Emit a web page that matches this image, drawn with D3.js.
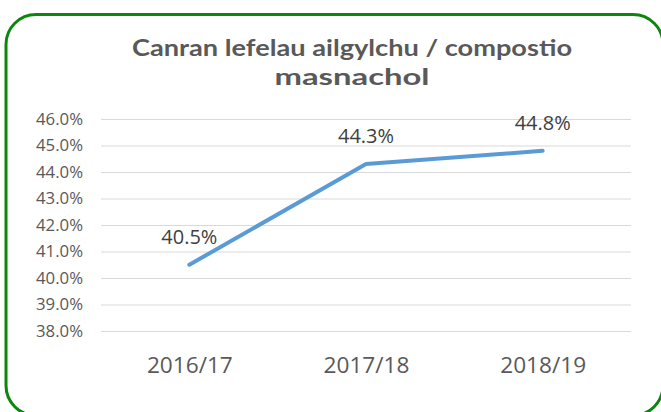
<!DOCTYPE html>
<html>
<head>
<meta charset="utf-8">
<script src="https://cdn.jsdelivr.net/npm/d3@7"></script>
<style>
  html, body { margin: 0; padding: 0; background: #fff; }
  svg { display: block; }
</style>
</head>
<body>
<svg id="chart" width="661" height="412"></svg>
<script>
const titleLines = ["Canran lefelau ailgylchu / compostio", "masnachol"];
const categories = ["2016/17", "2017/18", "2018/19"];
const values = [40.5, 44.3, 44.8];
const valueLabels = ["40.5%", "44.3%", "44.8%"];
const yTicks = [38, 39, 40, 41, 42, 43, 44, 45, 46];

const svg = d3.select("#chart");

// fit a text selection's font-size so that the first node reaches the target width
function fitFont(sel, baseSize, targetWidth) {
  sel.attr("font-size", baseSize);
  const w = sel.node().getComputedTextLength();
  const size = w > 0 ? baseSize * targetWidth / w : baseSize;
  sel.attr("font-size", size);
}

svg.append("rect")
  .attr("x", 6).attr("y", 14.5)
  .attr("width", 657).attr("height", 401)
  .attr("rx", 30).attr("ry", 30)
  .attr("fill", "#fff")
  .attr("stroke", "#0b870b")
  .attr("stroke-width", 3);

const x = d3.scalePoint().domain(categories).range([101, 631]).padding(0.5);
const y = d3.scaleLinear().domain([38, 46]).range([331, 119]);

// title
const titleWidths = [440, 155];
svg.append("g").selectAll("text").data(titleLines).join("text")
  .attr("x", 352)
  .attr("y", (d, i) => 56 + i * 29)
  .attr("text-anchor", "middle")
  .attr("font-family", "Lato, 'Open Sans', sans-serif")
  .attr("font-weight", "bold")
  .attr("font-size", 23.5)
  .attr("fill", "#595959")
  .attr("textLength", (d, i) => titleWidths[i])
  .attr("lengthAdjust", "spacingAndGlyphs")
  .text(d => d);

// y axis with gridlines
const yAxis = d3.axisLeft(y)
  .tickValues(yTicks)
  .tickSize(-530)
  .tickPadding(18)
  .tickFormat(d => d3.format(".1f")(d) + "%");

const gy = svg.append("g")
  .attr("transform", "translate(101,0)")
  .call(yAxis);
gy.select(".domain").remove();
gy.selectAll(".tick line").attr("stroke", "#d9d9d9").attr("stroke-width", 1);
const yText = gy.selectAll(".tick text")
  .attr("font-family", "'Open Sans', sans-serif")
  .attr("fill", "#595959");
fitFont(yText, 14, 47);

// x axis labels
const xAxis = d3.axisBottom(x).tickSize(0).tickPadding(0);
const gx = svg.append("g")
  .attr("transform", "translate(0,331)")
  .call(xAxis);
gx.select(".domain").remove();
const xText = gx.selectAll(".tick text")
  .attr("y", 42)
  .attr("dy", 0)
  .attr("font-family", "'Open Sans', sans-serif")
  .attr("fill", "#595959");
fitFont(xText, 22, 86);

// line
const data = categories.map((c, i) => ({ c, v: values[i], l: valueLabels[i] }));
svg.append("path")
  .datum(data)
  .attr("fill", "none")
  .attr("stroke", "#5b9bd5")
  .attr("stroke-width", 4)
  .attr("stroke-linecap", "round")
  .attr("stroke-linejoin", "round")
  .attr("d", d3.line().x(d => x(d.c)).y(d => y(d.v)));

// data labels
const dl = svg.append("g").selectAll("text").data(data).join("text")
  .attr("x", d => x(d.c))
  .attr("y", d => y(d.v) - 21)
  .attr("text-anchor", "middle")
  .attr("font-family", "'Open Sans', sans-serif")
  .attr("fill", "#404040")
  .text(d => d.l);
fitFont(dl, 17, 56);
</script>
</body>
</html>
